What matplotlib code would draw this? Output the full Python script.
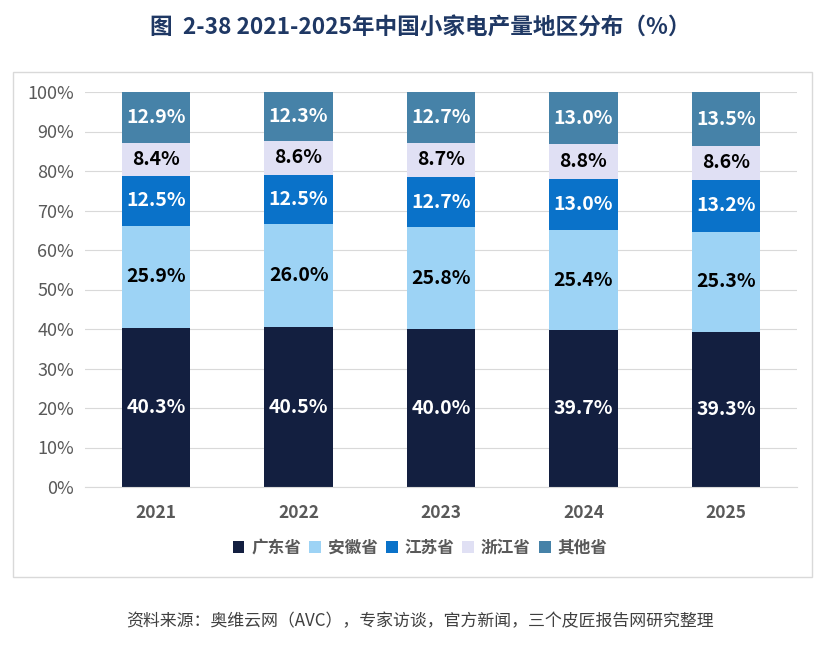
import matplotlib.pyplot as plt
import numpy as np
from matplotlib.patches import Rectangle

plt.rcParams['font.family'] = ['Noto Sans CJK SC', 'DejaVu Sans']

years = ['2021', '2022', '2023', '2024', '2025']
regions = ['广东省', '安徽省', '江苏省', '浙江省', '其他省']
guangdong = [40.3, 40.5, 40.0, 39.7, 39.3]
anhui = [25.9, 26.0, 25.8, 25.4, 25.3]
jiangsu = [12.5, 12.5, 12.7, 13.0, 13.2]
zhejiang = [8.4, 8.6, 8.7, 8.8, 8.6]
others = [12.9, 12.3, 12.7, 13.0, 13.5]

series = [guangdong, anhui, jiangsu, zhejiang, others]
colors = ['#131f40', '#9dd3f5', '#0a72c9', '#e0e0f4', '#4682a8']
text_colors = ['white', 'black', 'white', 'black', 'white']

fig = plt.figure(figsize=(8.4, 6.53), dpi=100)
# outer box
fig.patches.append(Rectangle((13 / 840, 1 - 577 / 653), 799 / 840, 505 / 653,
                             transform=fig.transFigure, fill=False,
                             edgecolor='#d9d9d9', linewidth=1))
ax = fig.add_axes([85 / 840, 1 - 487 / 653, 712 / 840, 395 / 653])

x = np.arange(len(years))
bottom = np.zeros(len(years))
for vals, c, tc, name in zip(series, colors, text_colors, regions):
    vals = np.array(vals)
    ax.bar(x, vals, 0.48, bottom=bottom, color=c, label=name, zorder=2)
    for xi, b, v in zip(x, bottom, vals):
        ax.text(xi, b + v / 2, f'{v:.1f}%', ha='center', va='center',
                color=tc, fontsize=14, fontweight='bold', zorder=3)
    bottom += vals

ax.set_ylim(0, 100)
ax.set_xlim(-0.5, len(years) - 0.5)
ax.set_yticks(np.arange(0, 101, 10))
ax.set_yticklabels([f'{v}%' for v in range(0, 101, 10)])
ax.set_xticks(x)
ax.set_xticklabels(years, fontweight='bold')
ax.grid(axis='y', color='#d9d9d9', linewidth=0.8, zorder=0)
for s in ['top', 'right', 'left']:
    ax.spines[s].set_visible(False)
ax.spines['bottom'].set_color('#d9d9d9')
ax.tick_params(axis='y', length=0, colors='#595959', labelsize=13, pad=8)
ax.tick_params(axis='x', length=0, colors='#595959', labelsize=12.5, pad=12)

leg = fig.legend(loc='center', bbox_to_anchor=(0.5, 1 - 548 / 653), ncol=5,
                 frameon=False, handlelength=0.7, handleheight=0.7,
                 handletextpad=0.4, columnspacing=0.5,
                 prop={'weight': 'bold', 'size': 12})
for t in leg.get_texts():
    t.set_color('#595959')

fig.text(0.5, 1 - 28 / 653, '图  2-38 2021-2025年中国小家电产量地区分布（%）',
         ha='center', va='center', fontsize=16.3, fontweight='bold', color='#1f3864')
fig.text(0.5, 1 - 621 / 653, '资料来源：奥维云网（AVC），专家访谈，官方新闻，三个皮匠报告网研究整理',
         ha='center', va='center', fontsize=12.2, color='#404040')

plt.savefig('out.png', dpi=100)
